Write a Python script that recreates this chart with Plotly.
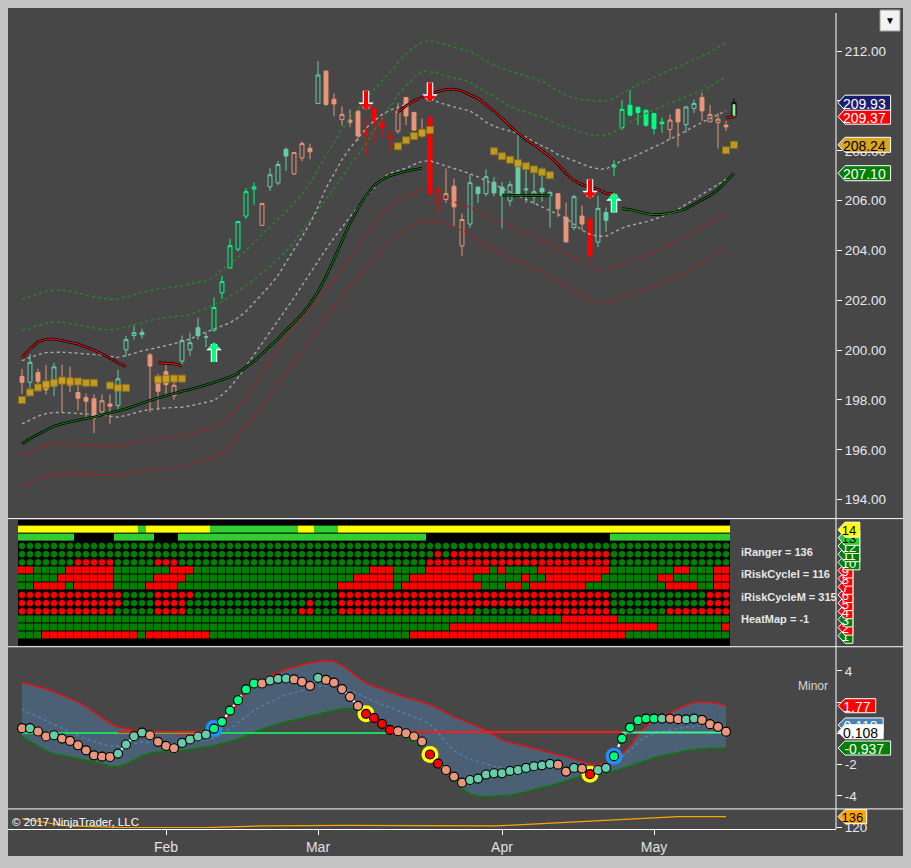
import plotly.graph_objects as go

# ---------------- values ----------------
# one price bar per session, index 0 = first bar on the chart
opens = [198.94, 198.71, 199.10, 198.73, 198.54, 198.86, 198.89, 198.30, 198.10, 198.05,
         197.52, 197.84, 197.78, 200.01, 200.59, 200.71, 199.81, 198.92, 199.14, 198.17,
         199.56, 200.01, 200.90, 200.52, 200.80, 202.30, 203.30, 204.05, 205.38, 206.47,
         205.01, 206.55, 206.71, 208.06, 207.07, 207.71, 208.10, 209.90, 211.20, 210.07,
         209.25, 209.23, 209.59, 208.76, 209.72, 209.15, 208.59, 208.79, 210.14, 209.54,
         208.85, 209.33, 205.95, 206.05, 206.58, 204.18, 205.06, 206.54, 206.28, 206.74,
         206.54, 205.99, 207.59, 206.47, 206.15, 206.50, 206.20, 206.28, 205.33, 204.92,
         205.38, 205.26, 204.34, 205.52, 207.35, 208.93, 209.83, 209.74, 209.63, 209.50,
         209.15, 208.85, 209.66, 209.05, 209.70, 210.14, 209.16, 209.13, 209.03, 209.36]
highs = [199.25, 199.83, 199.25, 199.41, 199.49, 199.42, 199.34, 198.62, 198.25, 198.22,
         198.22, 198.22, 199.21, 200.56, 200.98, 200.86, 199.88, 199.05, 199.42, 198.98,
         200.59, 200.70, 201.30, 200.71, 202.12, 202.99, 204.47, 205.16, 206.50, 206.74,
         205.92, 207.30, 207.59, 208.13, 207.93, 208.38, 208.29, 211.60, 211.20, 210.30,
         209.79, 209.66, 209.63, 209.25, 209.72, 209.46, 208.85, 209.92, 210.14, 209.54,
         209.29, 209.43, 206.58, 207.29, 206.88, 205.48, 207.06, 206.58, 207.25, 206.95,
         206.75, 206.79, 208.67, 207.29, 207.06, 207.33, 206.39, 206.28, 205.92, 206.23,
         205.80, 205.26, 206.20, 205.72, 207.62, 210.03, 210.43, 209.79, 209.63, 209.52,
         209.33, 209.46, 209.70, 209.79, 210.06, 210.33, 209.83, 209.50, 209.20, 210.10]
lows = [198.25, 198.18, 198.58, 198.22, 198.17, 197.51, 198.31, 197.58, 197.28, 196.67,
        197.34, 197.04, 197.60, 199.75, 200.42, 200.46, 197.51, 197.58, 198.22, 198.01,
        199.38, 199.77, 200.42, 200.12, 200.75, 202.06, 203.27, 203.95, 205.26, 205.83,
        204.98, 206.39, 206.62, 207.19, 207.03, 207.59, 207.66, 209.86, 209.80, 209.39,
        209.00, 208.96, 208.40, 207.82, 208.32, 208.56, 207.96, 208.69, 209.03, 208.79,
        208.52, 206.21, 205.48, 205.91, 204.98, 203.78, 204.90, 205.91, 206.17, 206.17,
        204.88, 205.79, 206.15, 205.91, 205.85, 205.95, 204.92, 205.34, 204.34, 204.81,
        204.81, 203.63, 204.14, 204.74, 206.99, 208.83, 209.39, 209.03, 208.96, 208.67,
        208.72, 208.45, 208.16, 208.72, 209.52, 209.20, 209.16, 208.09, 208.80, 209.36]
closes = [198.71, 199.51, 198.75, 198.41, 199.33, 198.65, 198.58, 198.07, 197.95, 197.27,
          197.97, 197.75, 198.85, 200.42, 200.70, 200.62, 199.36, 198.35, 198.62, 198.59,
          200.39, 200.30, 200.58, 200.53, 201.71, 202.75, 204.19, 205.16, 206.36, 206.55,
          205.88, 207.04, 207.45, 207.79, 207.93, 208.29, 207.96, 211.04, 209.86, 209.88,
          209.46, 209.15, 208.60, 208.67, 209.12, 208.92, 208.52, 209.59, 209.40, 208.83,
          208.59, 206.28, 206.42, 206.28, 205.75, 205.24, 206.72, 206.28, 206.96, 206.31,
          206.21, 206.64, 206.21, 206.44, 206.36, 206.35, 206.32, 205.67, 204.34, 206.16,
          205.06, 203.80, 205.69, 205.21, 207.42, 209.66, 209.43, 209.54, 209.03, 208.89,
          209.09, 209.23, 209.16, 209.76, 209.90, 209.60, 209.46, 209.27, 208.96, 209.93]
# candle paint: S salmon, T teal, B spring green, R red, L live bar
bar_paint = ("STSSTSSSSS" "SSTTTTSSSS" "TTTTBBBBBB" "STTTSSSTSS" "SSSRRRRSSS"
             "SRRSSSTTTT" "TTTTTTTSST" "SRTTBBBBBB" "BSSTTSSSSL")

# envelope bands (bars 0..88)
green_a = [202.04, 202.15, 202.27, 202.36, 202.40, 202.40, 202.36, 202.30, 202.22, 202.14,
           202.08, 202.04, 202.05, 202.12, 202.22, 202.32, 202.40, 202.45, 202.50, 202.53,
           202.58, 202.65, 202.72, 202.80, 202.95, 203.20, 203.45, 203.72, 204.00, 204.30,
           204.65, 204.95, 205.25, 205.55, 205.90, 206.25, 206.70, 207.25, 207.85, 208.35,
           208.85, 209.30, 209.70, 210.10, 210.45, 210.80, 211.15, 211.55, 211.90, 212.15,
           212.35, 212.42, 212.35, 212.25, 212.17, 212.10, 212.00, 211.80, 211.60, 211.45,
           211.30, 211.20, 211.10, 211.00, 210.92, 210.80, 210.60, 210.40, 210.25, 210.12,
           210.05, 210.00, 209.98, 209.99, 210.10, 210.30, 210.50, 210.65, 210.80, 210.95,
           211.10, 211.25, 211.35, 211.50, 211.65, 211.80, 211.95, 212.15, 212.33]
green_b = [200.79, 200.90, 201.00, 201.08, 201.13, 201.12, 201.06, 200.98, 200.92, 200.86,
           200.83, 200.82, 200.85, 200.92, 201.00, 201.10, 201.20, 201.27, 201.31, 201.34,
           201.37, 201.42, 201.55, 201.70, 201.82, 201.95, 202.15, 202.38, 202.60, 202.85,
           203.10, 203.35, 203.65, 203.95, 204.35, 204.80, 205.21, 205.60, 206.05, 206.45,
           206.90, 207.35, 207.80, 208.30, 208.80, 209.30, 209.80, 210.25, 210.60, 210.95,
           211.20, 211.18, 211.13, 211.00, 210.92, 210.85, 210.77, 210.55, 210.35, 210.15,
           209.95, 209.78, 209.65, 209.55, 209.45, 209.35, 209.20, 209.05, 208.95, 208.85,
           208.72, 208.65, 208.62, 208.61, 208.75, 208.95, 209.15, 209.30, 209.50, 209.65,
           209.78, 209.90, 210.03, 210.15, 210.28, 210.42, 210.58, 210.78, 210.97]
gray_up = [199.58, 199.70, 199.82, 199.90, 199.92, 199.92, 199.90, 199.88, 199.86, 199.85,
           199.80, 199.75, 199.71, 199.78, 199.88, 199.97, 200.04, 200.10, 200.18, 200.26,
           200.35, 200.45, 200.60, 200.72, 200.85, 200.98, 201.10, 201.30, 201.55, 201.90,
           202.25, 202.60, 203.00, 203.50, 204.00, 204.55, 205.08, 205.75, 206.50, 207.10,
           207.65, 208.10, 208.50, 208.90, 209.20, 209.45, 209.63, 209.75, 209.87, 209.97,
           210.10, 210.12, 209.95, 209.85, 209.75, 209.68, 209.60, 209.40, 209.15, 208.98,
           208.88, 208.80, 208.70, 208.55, 208.35, 208.20, 208.05, 207.85, 207.72, 207.58,
           207.45, 207.35, 207.28, 207.26, 207.45, 207.60, 207.70, 207.85, 207.98, 208.12,
           208.30, 208.48, 208.62, 208.80, 208.98, 209.14, 209.30, 209.45, 209.60]
gray_dn = [197.04, 197.20, 197.35, 197.45, 197.50, 197.50, 197.48, 197.46, 197.44, 197.43,
           197.40, 197.35, 197.31, 197.38, 197.48, 197.56, 197.62, 197.66, 197.68, 197.70,
           197.71, 197.76, 197.83, 197.90, 197.98, 198.20, 198.50, 198.90, 199.35, 199.85,
           200.30, 200.75, 201.20, 201.65, 202.10, 202.60, 203.10, 203.60, 204.05, 204.50,
           204.95, 205.35, 205.75, 206.15, 206.50, 206.90, 207.10, 207.20, 207.30, 207.45,
           207.58, 207.60, 207.50, 207.40, 207.30, 207.18, 207.08, 206.95, 206.80, 206.62,
           206.48, 206.35, 206.20, 206.05, 205.90, 205.75, 205.60, 205.42, 205.30, 205.05,
           204.82, 204.65, 204.57, 204.57, 204.75, 204.90, 205.00, 205.07, 205.15, 205.25,
           205.36, 205.48, 205.65, 205.85, 206.05, 206.25, 206.45, 206.65, 206.85]
red_a = [195.77, 195.90, 196.05, 196.17, 196.24, 196.24, 196.22, 196.20, 196.18, 196.17,
         196.15, 196.14, 196.13, 196.20, 196.30, 196.38, 196.43, 196.47, 196.50, 196.53,
         196.56, 196.62, 196.70, 196.80, 196.92, 197.10, 197.35, 197.70, 198.10, 198.60,
         199.10, 199.60, 200.10, 200.55, 200.95, 201.25, 201.65, 202.05, 202.45, 202.80,
         203.25, 203.70, 204.15, 204.60, 205.05, 205.50, 205.80, 206.00, 206.18, 206.32,
         206.42, 206.40, 206.30, 206.10, 205.95, 205.85, 205.75, 205.55, 205.38, 205.25,
         205.12, 205.00, 204.85, 204.70, 204.55, 204.42, 204.25, 204.05, 203.90, 203.75,
         203.55, 203.38, 203.25, 203.20, 203.35, 203.50, 203.60, 203.70, 203.80, 203.95,
         204.10, 204.25, 204.40, 204.55, 204.75, 204.95, 205.12, 205.30, 205.50]
red_b = [194.56, 194.70, 194.85, 194.96, 195.03, 195.04, 195.04, 195.03, 195.03, 195.02,
         195.00, 194.98, 194.97, 195.02, 195.08, 195.12, 195.16, 195.20, 195.25, 195.30,
         195.36, 195.42, 195.50, 195.60, 195.70, 195.90, 196.20, 196.55, 196.95, 197.35,
         197.75, 198.20, 198.65, 199.10, 199.55, 200.00, 200.45, 200.90, 201.30, 201.75,
         202.15, 202.55, 202.95, 203.35, 203.70, 204.05, 204.40, 204.62, 204.85, 205.05,
         205.20, 205.20, 205.15, 205.05, 204.95, 204.80, 204.68, 204.40, 204.18, 204.00,
         203.85, 203.70, 203.60, 203.45, 203.28, 203.12, 202.95, 202.75, 202.58, 202.40,
         202.15, 201.99, 201.88, 201.84, 202.00, 202.12, 202.25, 202.35, 202.42, 202.55,
         202.68, 202.80, 202.95, 203.12, 203.30, 203.50, 203.70, 203.90, 204.10]

# trend stop lines (bars 0..89, None where not drawn)
_ = None
stop_up = [199.69, 200.05, 200.33, 200.44, 200.45, 200.40, 200.32, 200.25, 200.13, 200.00,
           199.85, 199.66, 199.50, 199.35, _, _, _, 199.50, 199.48, 199.45,
           199.36, _, _, _, _, _, _, _, _, _,
           _, _, _, _, _, _, _, _, _, _,
           _, _, _, _, _, _, _, 209.55, 209.80, 210.00,
           210.15, 210.28, 210.38, 210.46, 210.48, 210.40, 210.25, 210.10, 209.85, 209.60,
           209.30, 209.00, 208.70, 208.45, 208.25, 208.00, 207.75, 207.45, 207.10, 206.80,
           206.65, 206.55, 206.45, 206.30, 206.25, _, _, _, _, _,
           _, _, _, _, _, _, _, _, 209.32, 209.37]
stop_dn = [196.24, 196.45, 196.62, 196.80, 196.95, 197.05, 197.13, 197.20, 197.26, 197.32,
           197.40, 197.47, 197.55, 197.65, 197.76, 197.88, 197.98, 198.08, 198.18, 198.27,
           198.35, 198.42, 198.50, 198.60, 198.70, 198.80, 198.92, 199.08, 199.30, 199.55,
           199.85, 200.15, 200.45, 200.80, 201.10, 201.45, 201.85, 202.35, 202.95, 203.65,
           204.40, 205.10, 205.70, 206.20, 206.60, 206.85, 207.00, 207.10, 207.18, 207.24,
           207.30, _, _, _, _, _, _, _, _, _,
           206.22, 206.21, 206.20, 206.20, 206.20, 206.21, 206.22, _, _, _,
           _, _, _, _, _, 205.68, 205.64, 205.56, 205.48, 205.44,
           205.45, 205.50, 205.57, 205.68, 205.85, 206.00, 206.20, 206.45, 206.75, 207.10]

gold_bars = [0, 1, 2, 3, 4, 5, 6, 7, 8, 9, 11, 12, 13, 17, 18, 19, 20,
             47, 48, 49, 50, 51, 59, 60, 61, 62, 63, 64, 65, 66, 88, 89]
gold_vals = [198.00, 198.30, 198.50, 198.62, 198.69, 198.78, 198.74, 198.74, 198.69, 198.69,
             198.58, 198.49, 198.49, 198.82, 198.85, 198.86, 198.86,
             208.18, 208.42, 208.59, 208.72, 208.83, 207.98, 207.78, 207.64, 207.50, 207.38,
             207.25, 207.14, 207.02, 208.02, 208.24]

sell_bars = [43, 51, 71]
sell_vals = [209.63, 209.96, 206.08]
buy_bars = [24, 74]
buy_vals = [200.31, 206.31]

# heat map rows as runs (G green, R red, Y yellow, L lime, K black), bars 0..88
heat_runs = {
    14: "Y15 L1 Y8 L11 Y2 L3 Y49",
    13: "L7 K5 L5 K3 L31 K23 L15",
    12: "G89",
    11: "G52 R1 G1 R20 G15",
    10: "G7 R5 G5 R3 G31 R23 G15",
    9: "R2 G4 R6 G7 R3 G22 R3 G4 R8 G1 R1 G4 R9 G8 R2 G3 R2",
    8: "G5 R7 G5 R4 G21 R5 G2 R8 G6 R1 G2 R7 G7 R2 G5 R2",
    7: "G2 R4 G1 R5 G4 R4 G20 R7 G1 R10 G3 R2 G1 R7 G10 R4 G2 R2",
    6: "R13 G4 R5 G18 R34 G12 R3",
    5: "R13 G4 R4 G15 R1 G3 R34 G12 R3",
    4: "R12 G5 R4 G14 R2 G3 R17 G7 R10 G7 R8",
    3: "G68 R7 G14",
    2: "G54 R26 G8 R1",
    1: "G3 R12 G1 R8 G25 R27 G13",
}
heat_labels = ["iRanger = 136", "iRiskCycleI = 116", "iRiskCycleM = 315", "HeatMap = -1"]

# oscillator (bars 0..88)
osc = [0.33, 0.33, 0.12, -0.20, -0.12, -0.33, -0.48, -0.76, -1.08, -1.40,
       -1.48, -1.51, -1.29, -0.71, -0.18, 0.05, -0.12, -0.54, -0.80, -0.95,
       -0.61, -0.39, -0.20, -0.07, 0.31, 0.74, 1.46, 2.12, 2.81, 3.19,
       3.19, 3.38, 3.49, 3.51, 3.45, 3.30, 3.04, 3.55, 3.42, 3.25,
       2.83, 2.34, 1.76, 1.25, 0.99, 0.61, 0.22, 0.14, 0.01, -0.20,
       -0.52, -1.35, -1.93, -2.34, -2.76, -3.15, -2.98, -2.89, -2.63, -2.55,
       -2.55, -2.40, -2.34, -2.21, -2.10, -2.04, -1.95, -2.00, -2.44, -2.21,
       -2.25, -2.61, -2.34, -2.21, -1.46, -0.33, 0.37, 0.84, 0.95, 0.95,
       0.95, 0.95, 0.91, 0.89, 0.95, 0.86, 0.59, 0.42, 0.108]
osc_paint = ("STSSTSSSSS" "SSTTTTSSSS" "TTTTBBBBBB" "STTTSSSTSS" "SSSRRRRSSS"
             "SRRSSSTTTT" "TTTTTTTSST" "SRTTBBBBBB" "TSSTTSSSS")
osc_upper = [3.25, 3.10, 2.95, 2.85, 2.65, 2.45, 2.25, 2.00, 1.70, 1.35,
             0.95, 0.65, 0.42, 0.28, 0.18, 0.12, 0.08, 0.04, 0.01, -0.02,
             -0.04, -0.05, -0.05, -0.03, 0.15, 0.60, 1.20, 1.95, 2.65, 3.05,
             3.40, 3.65, 3.90, 4.10, 4.25, 4.38, 4.50, 4.58, 4.64, 4.58,
             4.35, 3.98, 3.60, 3.20, 3.00, 2.85, 2.63, 2.45, 2.30, 2.15,
             2.00, 1.85, 1.60, 1.30, 1.05, 0.85, 0.65, 0.45, 0.20, -0.10,
             -0.44, -0.58, -0.70, -0.80, -0.95, -1.10, -1.23, -1.35, -1.50, -1.63,
             -1.80, -1.97, -1.97, -1.90, -1.70, -1.30, -0.80, -0.10, 0.45, 0.85,
             1.10, 1.33, 1.60, 1.80, 1.95, 2.02, 1.98, 1.90, 1.77]
osc_lower = [-0.20, -0.50, -0.80, -1.10, -1.30, -1.42, -1.50, -1.60, -1.70, -1.82,
             -1.95, -2.10, -2.12, -1.97, -1.70, -1.44, -1.25, -1.18, -1.18, -1.16,
             -1.10, -1.03, -0.95, -0.86, -0.78, -0.65, -0.50, -0.36, -0.15, 0.08,
             0.28, 0.45, 0.60, 0.74, 0.85, 0.98, 1.08, 1.20, 1.35, 1.48,
             1.57, 1.60, 1.56, 1.35, 1.10, 0.75, 0.35, -0.05, -0.30, -0.58,
             -0.85, -1.25, -1.72, -2.40, -2.95, -3.55, -3.85, -4.00, -4.04, -4.02,
             -4.00, -3.95, -3.85, -3.75, -3.60, -3.45, -3.36, -3.20, -3.00, -2.85,
             -2.70, -2.61, -2.56, -2.52, -2.40, -2.25, -2.08, -1.90, -1.70, -1.55,
             -1.42, -1.33, -1.22, -1.10, -1.02, -0.98, -0.95, -0.94, -0.937]
osc_mid = [1.55, 1.30, 1.05, 0.80, 0.60, 0.35, 0.10, -0.15, -0.35, -0.55,
           -0.70, -0.80, -0.82, -0.78, -0.65, -0.55, -0.60, -0.66, -0.69, -0.66,
           -0.60, -0.55, -0.50, -0.42, -0.30, -0.05, 0.30, 0.69, 1.10, 1.45,
           1.75, 2.00, 2.25, 2.45, 2.60, 2.72, 2.85, 3.00, 3.06, 3.05,
           2.95, 2.75, 2.55, 2.30, 2.05, 1.85, 1.65, 1.45, 1.30, 1.05,
           0.85, 0.60, 0.10, -0.60, -1.10, -1.40, -1.65, -1.80, -1.95, -2.10,
           -2.19, -2.22, -2.22, -2.20, -2.18, -2.15, -2.12, -2.15, -2.18, -2.19,
           -2.20, -2.20, -2.15, -2.08, -1.85, -1.50, -1.10, -0.60, -0.20, 0.00,
           0.12, 0.22, 0.32, 0.40, 0.45, 0.48, 0.48, 0.45, 0.40]
signal_level = 0.05
signal_green = [(0, 46)]
signal_red = [(12, 24), (47, 75)]
signal_lime = [(75, 88)]
blue_halo_bars = [24, 74]
yellow_halo_bars = [43, 51, 71]

# ranger line in the bottom strip (bars 0..88)
ranger = [133.0, 131.0, 129.0, 127.0, 125.0, 123.5, 122.5, 122.0, 121.5, 121.0,
          120.8, 120.5, 120.3, 120.2, 120.1, 120.0, 120.0, 120.0, 120.0, 120.0,
          120.0, 120.0, 120.0, 120.2, 120.5, 121.0, 121.5, 122.0, 122.3, 122.5,
          122.5, 122.6, 122.8, 123.0, 123.2, 123.4, 123.5, 123.5, 123.5, 123.5,
          123.4, 123.3, 123.2, 123.0, 122.8, 122.7, 122.6, 122.5, 122.5, 122.5,
          122.5, 122.5, 122.5, 122.5, 122.5, 122.5, 122.5, 122.5, 122.5, 122.5,
          123.0, 123.6, 124.2, 124.9, 125.7, 126.5, 127.3, 127.9, 128.5, 129.1,
          129.7, 130.3, 130.9, 131.6, 132.2, 132.8, 133.4, 133.9, 134.5, 134.9,
          135.3, 135.6, 135.9, 136.0, 136.0, 136.0, 136.0, 136.0, 136.0]

month_ticks = [18, 37, 60, 79]
month_labels = ["Feb", "Mar", "Apr", "May"]

price_tags = [(209.37, "209.37", "#FF0000", "white"), (209.93, "209.93", "#1C1C6E", "white"),
              (208.24, "208.24", "#DAA520", "black"), (207.10, "207.10", "#008000", "white")]
osc_tags = [(0.54, "0.118", "#4682B4", "white"), (1.77, "1.77", "#FF0000", "white"),
            (0.108, "0.108", "#FFFFFF", "black"), (-0.937, "-0.937", "#008000", "white")]
ranger_tags = [(136, "136", "#FFA500", "black")]

# ---------------- page geometry (reference pixels) ----------------
W, H = 911, 868
PAGE_H = 875          # the page is photographed a little taller and squeezed back to 868
BG = "#474747"
FONT = "Liberation Sans, Arial, sans-serif"
LEFT, AXIS_X, RIGHT = 8, 836, 903
# (low, high, top px, bottom px) for each pane
MAIN = (193.24, 213.73, 8, 518)
HEAT = (-0.35, 15.36, 518, 646)
OSC = (-4.83, 5.54, 646, 808)
LOW = (118.1, 147.2, 808, 828)
XR = [-1.75, 101.75]

PAINT = {"S": "#E9967A", "T": "#66CDAA", "B": "#00FF7F", "R": "#FF0000"}
HEAT_CODE = {"K": 0, "G": 1, "R": 2, "Y": 3, "L": 4}
HEAT_COLOR = {"K": "#000000", "G": "#008000", "R": "#FF0000", "Y": "#FFFF00", "L": "#32CD32"}


def fx(px):
    return px / W


def fy(py):
    return 1 - py / H


def to_px(v, pane):
    lo, hi, top, bot = pane
    return top + (hi - v) / (hi - lo) * (bot - top)


def dom(pane):
    return [fy(pane[3]), fy(pane[2])]


def expand(runs):
    return "".join(tok[0] * int(tok[1:]) for tok in runs.split())


fig = go.Figure()

# ---------------- price pane ----------------
bands = [(green_a, "#2A842A", 1.5), (green_b, "#2A842A", 1.5),
         (gray_up, "#A8A8A8", 1.4), (gray_dn, "#A8A8A8", 1.4),
         (red_a, "#C01818", 1.3), (red_b, "#C01818", 1.3)]
for vals, col, w in bands:
    fig.add_trace(go.Scatter(x=list(range(len(vals))), y=vals, mode="lines",
                             line=dict(color=col, width=w, dash="dot"), hoverinfo="skip"))

for vals, col in ((stop_dn, "#0E800E"), (stop_up, "#FF1010")):
    xs = list(range(len(vals)))
    fig.add_trace(go.Scatter(x=xs, y=vals, mode="lines", line=dict(color="black", width=2.6),
                             connectgaps=False, hoverinfo="skip"))
    fig.add_trace(go.Scatter(x=xs, y=vals, mode="lines", line=dict(color=col, width=1.1),
                             connectgaps=False, hoverinfo="skip"))

fig.add_trace(go.Scatter(x=gold_bars, y=gold_vals, mode="markers", hoverinfo="skip",
                         marker=dict(symbol="square", size=7, color="#C9A021", opacity=0.92,
                                     line=dict(color="#8E7318", width=1))))

for code, col in PAINT.items():
    idx = [i for i, c in enumerate(bar_paint) if c == code]
    fig.add_trace(go.Candlestick(
        x=idx, open=[opens[i] for i in idx], high=[highs[i] for i in idx],
        low=[lows[i] for i in idx], close=[closes[i] for i in idx],
        increasing=dict(line=dict(color=col, width=1), fillcolor=BG),
        decreasing=dict(line=dict(color=col, width=1), fillcolor=col),
        hoverinfo="skip", showlegend=False))
idx = [i for i, c in enumerate(bar_paint) if c == "L"]
fig.add_trace(go.Candlestick(
    x=idx, open=[opens[i] for i in idx], high=[highs[i] for i in idx],
    low=[lows[i] for i in idx], close=[closes[i] for i in idx],
    increasing=dict(line=dict(color="black", width=1), fillcolor="#90EE90"),
    decreasing=dict(line=dict(color="black", width=1), fillcolor="#90EE90"),
    hoverinfo="skip", showlegend=False))

annotations = []
for bars, vals, col, ay in ((sell_bars, sell_vals, "#FF0000", -21), (buy_bars, buy_vals, "#00FF7F", 21)):
    for b, v in zip(bars, vals):
        for c, w, s in (("white", 6.5, 0.4), (col, 4.2, 0.5)):
            annotations.append(dict(x=b, y=v, xref="x", yref="y", ax=0, ay=ay, text="",
                                    showarrow=True, arrowhead=1, arrowsize=s, arrowwidth=w,
                                    arrowcolor=c, standoff=0))

# ---------------- heat map pane ----------------
rows = {r: expand(s) for r, s in heat_runs.items()}
ncol = len(rows[1])
cols = list(range(ncol))
scale = [[0.0, "#000000"], [0.2, "#000000"], [0.2, "#008000"], [0.4, "#008000"],
         [0.4, "#FF0000"], [0.6, "#FF0000"], [0.6, "#FFFF00"], [0.8, "#FFFF00"],
         [0.8, "#32CD32"], [1.0, "#32CD32"]]
fig.add_trace(go.Heatmap(x=cols, y=[13, 14], z=[[HEAT_CODE[c] for c in rows[r]] for r in (13, 14)],
                         colorscale=scale, zmin=-0.5, zmax=4.5, showscale=False, ygap=1,
                         xaxis="x2", yaxis="y2", hoverinfo="skip"))
square_rows = (1, 2, 3, 7, 8, 9)
zsq = [[HEAT_CODE[c] for c in rows[r]] if r in square_rows else [None] * ncol for r in range(1, 10)]
fig.add_trace(go.Heatmap(x=cols, y=list(range(1, 10)), z=zsq, colorscale=scale, zmin=-0.5, zmax=4.5,
                         showscale=False, xgap=1, ygap=1, xaxis="x2", yaxis="y2", hoverinfo="skip"))
for r in (4, 5, 6, 10, 11, 12):
    fig.add_trace(go.Scatter(x=cols, y=[r] * ncol, mode="markers", xaxis="x2", yaxis="y2",
                             hoverinfo="skip",
                             marker=dict(size=7.5, color=[HEAT_COLOR[c] for c in rows[r]],
                                         line=dict(color="black", width=0.8))))

# ---------------- oscillator pane ----------------
xo = list(range(len(osc)))
fig.add_trace(go.Scatter(x=xo, y=osc_lower, mode="lines", line=dict(color="#0A7A0A", width=1.5),
                         xaxis="x3", yaxis="y3", hoverinfo="skip"))
fig.add_trace(go.Scatter(x=xo, y=osc_upper, mode="lines", line=dict(color="#E01414", width=1.5),
                         fill="tonexty", fillcolor="rgba(78,104,132,0.75)",
                         xaxis="x3", yaxis="y3", hoverinfo="skip"))
fig.add_trace(go.Scatter(x=xo, y=osc_mid, mode="lines", line=dict(color="#4F86BD", width=1.2, dash="dot"),
                         xaxis="x3", yaxis="y3", hoverinfo="skip"))
for spans, col, off in ((signal_green, "#1ED760", -0.02), (signal_red, "#FF1A1A", 0.04),
                        (signal_lime, "#3DF58F", 0.0)):
    for a, b in spans:
        fig.add_trace(go.Scatter(x=[a, b], y=[signal_level + off] * 2, mode="lines",
                                 line=dict(color=col, width=2), xaxis="x3", yaxis="y3",
                                 hoverinfo="skip"))
fig.add_trace(go.Scatter(x=xo, y=osc, mode="lines", line=dict(color="white", width=2.2, dash="dot"),
                         xaxis="x3", yaxis="y3", hoverinfo="skip"))
for bars, col in ((blue_halo_bars, "#1E90FF"), (yellow_halo_bars, "#FFFF00")):
    fig.add_trace(go.Scatter(x=bars, y=[osc[b] for b in bars], mode="markers",
                             marker=dict(size=17, color=col), xaxis="x3", yaxis="y3",
                             hoverinfo="skip"))
fig.add_trace(go.Scatter(x=xo, y=osc, mode="markers", xaxis="x3", yaxis="y3", hoverinfo="skip",
                         marker=dict(size=9, color=[PAINT[c] for c in osc_paint],
                                     line=dict(color="black", width=1.2))))

# ---------------- bottom strip ----------------
fig.add_trace(go.Scatter(x=list(range(len(ranger))), y=ranger, mode="lines",
                         line=dict(color="#FFA500", width=1.2), xaxis="x4", yaxis="y4",
                         hoverinfo="skip"))

# ---------------- frame, separators, tags, labels ----------------
shapes = [
    dict(type="rect", xref="paper", yref="paper", x0=fx(LEFT), x1=fx(RIGHT), y0=fy(855), y1=fy(8),
         fillcolor=BG, line=dict(width=0), layer="below"),
    dict(type="rect", xref="x2", yref="y2", x0=-0.5, x1=ncol - 0.5, y0=-0.23, y1=15.2,
         fillcolor="black", line=dict(width=0), layer="below"),
]
for py in (518, 646, 808):
    shapes.append(dict(type="line", xref="paper", yref="paper", x0=fx(LEFT), x1=fx(RIGHT),
                       y0=fy(py), y1=fy(py), line=dict(color="white", width=1), layer="above"))
shapes.append(dict(type="line", xref="paper", yref="paper", x0=fx(AXIS_X), x1=fx(AXIS_X),
                   y0=fy(13), y1=fy(828), line=dict(color="white", width=1), layer="above"))


def tag(value, pane, text, fill, tcol, fsize=14, h=15):
    py = to_px(value, pane)
    x0 = AXIS_X + 2
    tip = 7
    x1 = x0 + 8 + 6.9 * len(text) * fsize / 13
    path = (f"M {fx(x0)},{fy(py)} L {fx(x0 + tip)},{fy(py - h / 2)} L {fx(x1)},{fy(py - h / 2)} "
            f"L {fx(x1)},{fy(py + h / 2)} L {fx(x0 + tip)},{fy(py + h / 2)} Z")
    return dict(type="path", xref="paper", yref="paper", path=path, fillcolor=fill,
                line=dict(color="white", width=1), layer="above",
                label=dict(text=text, font=dict(family=FONT, size=fsize, color=tcol),
                           textposition="middle center", padding=0))


for v, t, f, c in price_tags:
    shapes.append(tag(v, MAIN, t, f, c, 14, 15))
for r in range(1, 15):
    last = rows[r][-1]
    shapes.append(tag(r, HEAT, str(r), HEAT_COLOR[last], "black" if last in "YL" else "white", 13, 15))
for v, t, f, c in osc_tags:
    shapes.append(tag(v, OSC, t, f, c, 14, 14))
for v, t, f, c in ranger_tags:
    shapes.append(tag(v, LOW, t, f, c, 13, 14))
shapes.append(dict(type="rect", xref="paper", yref="paper", x0=fx(880), x1=fx(900), y0=fy(31), y1=fy(10),
                   fillcolor="#F2F2F2", line=dict(color="#9A9A9A", width=1), layer="above",
                   label=dict(text="▼", font=dict(size=10, color="black"))))

for k, txt in enumerate(heat_labels):
    annotations.append(dict(x=fx(739), y=fy(551 + 22.5 * k), xref="paper", yref="paper", text=f"<b>{txt}</b>",
                            showarrow=False, xanchor="left", yanchor="middle",
                            font=dict(family=FONT, size=11, color="#E6E6E6")))
annotations.append(dict(x=fx(830), y=fy(685), xref="paper", yref="paper", text="Minor", showarrow=False,
                        xanchor="right", yanchor="middle", font=dict(family=FONT, size=12, color="#D8D8D8")))
annotations.append(dict(x=fx(10), y=fy(821), xref="paper", yref="paper", text="© 2017 NinjaTrader, LLC",
                        showarrow=False, xanchor="left", yanchor="middle",
                        font=dict(family=FONT, size=11.5, color="white")))

tickfont = dict(family=FONT, size=13.5, color="#E8E8F2")
xa = dict(range=XR, domain=[fx(LEFT), fx(AXIS_X)], showgrid=False, zeroline=False,
          showticklabels=False, fixedrange=True)
ya = dict(showgrid=False, zeroline=False, side="right", fixedrange=True, ticks="outside",
          ticklen=5, tickcolor="white", tickfont=tickfont)

fig.update_layout(
    width=W, height=PAGE_H, margin=dict(l=0, r=0, t=0, b=0), autosize=False,
    paper_bgcolor="#C4C4C4", plot_bgcolor=BG, showlegend=False,
    xaxis=dict(xa, anchor="y", rangeslider=dict(visible=False)),
    xaxis2=dict(xa, anchor="y2"),
    xaxis3=dict(xa, anchor="y3"),
    xaxis4=dict(xa, anchor="y4", showticklabels=True, tickvals=month_ticks, ticktext=month_labels,
                ticks="outside", ticklen=5, tickcolor="white", showline=True, linecolor="white",
                linewidth=1, tickfont=dict(family=FONT, size=14, color="#E0E0E8")),
    yaxis=dict(ya, domain=dom(MAIN), range=MAIN[:2], anchor="x",
               tickvals=list(range(194, 213, 2)), tickformat=".2f"),
    yaxis2=dict(domain=dom(HEAT), range=HEAT[:2], anchor="x2", showgrid=False, zeroline=False,
                showticklabels=False, fixedrange=True),
    yaxis3=dict(ya, domain=dom(OSC), range=OSC[:2], anchor="x3",
                tickvals=[-4, -2, 0, 2, 4], ticktext=["-4", "-2", "0", "2", "4"]),
    yaxis4=dict(ya, domain=dom(LOW), range=LOW[:2], anchor="x4", tickvals=[120], ticktext=["120"]),
    shapes=shapes, annotations=annotations,
)

page_fix = ("var d=document.documentElement,b=document.body;"
            "d.style.margin='0';d.style.padding='0';d.style.overflow='hidden';"
            "b.style.margin='0';b.style.padding='0';b.style.overflow='hidden';"
            "b.style.lineHeight='0';b.style.background='#C4C4C4';")
fig.write_html("out.html", config={"displayModeBar": False}, post_script=page_fix)
